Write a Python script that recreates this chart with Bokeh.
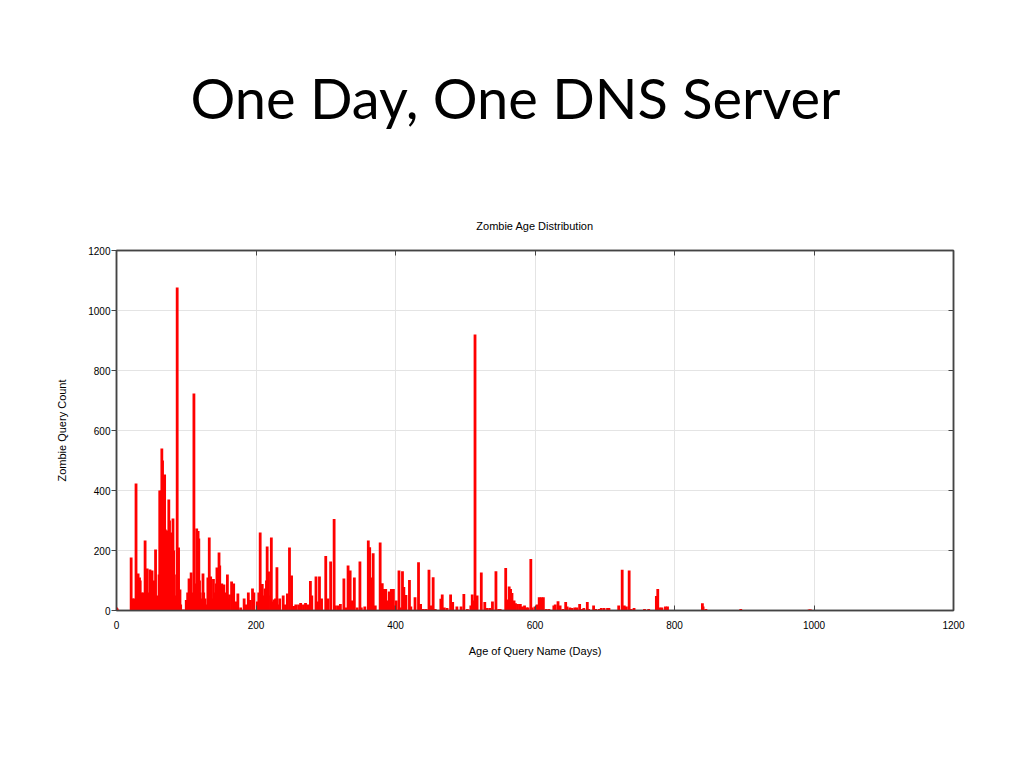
from bokeh.plotting import figure
from bokeh.models import ColumnDataSource, Range1d, LinearAxis, FixedTicker, Title
from bokeh.embed import file_html
from bokeh.resources import INLINE

# ---------------- data ----------------
slide_title = "One Day, One DNS Server"
chart_title = "Zombie Age Distribution"
x_label = "Age of Query Name (Days)"
y_label = "Zombie Query Count"
x_ticks = [0, 200, 400, 600, 800, 1000, 1200]
y_ticks = [0, 200, 400, 600, 800, 1000, 1200]

age_days = [
    0, 1, 21, 23, 25, 28, 30, 31, 33, 34, 36, 37, 39, 41, 42, 44, 46, 48, 49, 51,
    53, 54, 56, 58, 59, 61, 62, 63, 64, 65, 66, 67, 68, 69, 70, 72, 73, 74, 75, 76,
    77, 79, 80, 81, 82, 83, 85, 87, 88, 89, 91, 92, 96, 100, 102, 104, 106, 107, 109, 111,
    112, 113, 115, 116, 117, 118, 119, 120, 122, 124, 125, 127, 129, 131, 133, 135, 137, 139, 141, 143,
    144, 147, 148, 149, 151, 154, 156, 159, 160, 162, 165, 168, 171, 174, 178, 183, 186, 189, 192, 195,
    197, 202, 204, 206, 207, 209, 211, 213, 215, 216, 218, 221, 222, 224, 226, 228, 230, 233, 234, 239,
    242, 245, 248, 251, 254, 257, 261, 264, 268, 271, 274, 278, 280, 286, 289, 291, 294, 300, 303, 307,
    312, 314, 318, 321, 326, 329, 332, 335, 338, 341, 345, 349, 351, 356, 361, 363, 365, 368, 371, 378,
    381, 383, 386, 388, 391, 394, 397, 399, 401, 405, 407, 410, 412, 415, 420, 422, 428, 433, 436, 440,
    444, 448, 451, 454, 457, 465, 467, 470, 474, 479, 482, 488, 494, 498, 503, 508, 510, 512, 514, 517,
    523, 528, 531, 535, 539, 544, 548, 550, 558, 560, 563, 565, 567, 570, 572, 575, 579, 582, 585, 588,
    590, 594, 596, 600, 603, 606, 609, 612, 616, 620, 627, 629, 633, 636, 640, 644, 646, 650, 653, 657,
    660, 664, 668, 670, 675, 677, 684, 687, 692, 695, 699, 704, 706, 720, 725, 728, 731, 735, 738, 742,
    746, 751, 757, 763, 774, 776, 779, 782, 787, 790, 840, 841, 845, 890, 895, 897, 993, 995,
]
query_counts = [
    10, 7, 177, 40, 40, 423, 60, 123, 110, 100, 60, 30, 60, 233, 80, 140, 60, 137, 80, 133,
    70, 100, 203, 50, 40, 120, 400, 380, 400, 540, 500, 450, 380, 453, 270, 267, 200, 140, 370, 300,
    200, 260, 150, 307, 200, 120, 50, 1077, 100, 210, 70, 20, 3, 35, 60, 107, 60, 127, 60, 723,
    60, 90, 273, 200, 265, 240, 100, 60, 40, 123, 60, 40, 20, 110, 243, 113, 40, 105, 60, 90,
    143, 193, 150, 60, 90, 87, 60, 120, 40, 53, 97, 90, 30, 57, 10, 40, 20, 60, 35, 73,
    60, 30, 60, 260, 40, 88, 50, 73, 100, 213, 130, 50, 243, 30, 37, 40, 144, 20, 40, 50,
    20, 57, 210, 117, 15, 20, 20, 25, 20, 25, 20, 98, 50, 113, 30, 113, 40, 182, 40, 163,
    305, 17, 17, 22, 107, 10, 150, 133, 33, 110, 10, 163, 10, 13, 233, 211, 110, 191, 17, 227,
    91, 72, 72, 33, 63, 72, 72, 17, 33, 133, 10, 131, 78, 52, 102, 13, 44, 161, 22, 5,
    5, 136, 17, 111, 5, 39, 53, 10, 8, 53, 28, 13, 13, 55, 5, 17, 53, 33, 920, 50,
    127, 28, 8, 8, 30, 131, 5, 5, 142, 37, 80, 72, 58, 33, 24, 22, 22, 13, 17, 10,
    10, 172, 10, 13, 20, 44, 44, 44, 5, 5, 17, 20, 31, 17, 5, 28, 13, 10, 8, 10,
    10, 22, 5, 8, 28, 5, 17, 5, 5, 8, 8, 8, 8, 17, 136, 17, 13, 133, 5, 8,
    2, 2, 5, 5, 48, 72, 10, 10, 13, 13, 24, 13, 5, 2, 5, 2, 3, 3,
]

# ---------------- figure ----------------
src = ColumnDataSource(data=dict(day=age_days, count=query_counts))

p = figure(
    width=1008, height=752,
    x_range=Range1d(0, 1200), y_range=Range1d(0, 1200),
    output_backend="svg", toolbar_location=None, title=None,
    min_border_left=116, min_border_right=55,
    min_border_top=250, min_border_bottom=142,
    background_fill_color="white", border_fill_color="white",
)

p.segment(x0="day", y0=0, x1="day", y1="count", source=src,
          line_color="#ff0000", line_width=2.8)

FONT = "Liberation Sans"
AX = "#444444"

for ax in (p.xaxis[0], p.yaxis[0]):
    ax.major_label_text_font = FONT
    ax.major_label_text_font_size = "10px"
    ax.major_label_text_color = "black"
    ax.axis_label_text_font = FONT
    ax.axis_label_text_font_size = "11px"
    ax.axis_label_text_font_style = "normal"
    ax.axis_label_text_color = "black"
    ax.minor_tick_line_color = None
    ax.axis_line_color = AX
    ax.axis_line_width = 1.5
    ax.major_tick_line_color = AX

p.xaxis[0].ticker = FixedTicker(ticks=x_ticks)
p.yaxis[0].ticker = FixedTicker(ticks=y_ticks)
p.xaxis[0].axis_label = x_label
p.yaxis[0].axis_label = y_label

p.xaxis[0].major_tick_in = 5
p.xaxis[0].major_tick_out = 0
p.xaxis[0].major_label_standoff = 10
p.xaxis[0].axis_label_standoff = 13

p.yaxis[0].major_tick_in = 0
p.yaxis[0].major_tick_out = 5
p.yaxis[0].major_label_standoff = 1
p.yaxis[0].axis_label_standoff = 17

# mirrored axes (top / right) with inward ticks, no labels
for loc in ("above", "right"):
    ax = LinearAxis(ticker=FixedTicker(ticks=x_ticks if loc == "above" else y_ticks))
    ax.major_label_text_font_size = "0px"
    ax.major_label_text_color = None
    ax.minor_tick_line_color = None
    ax.major_tick_in = 5
    ax.major_tick_out = 0
    ax.axis_line_color = AX
    ax.axis_line_width = 1.5
    ax.major_tick_line_color = AX
    ax.major_label_standoff = 0
    p.add_layout(ax, loc)

p.xgrid.ticker = FixedTicker(ticks=x_ticks)
p.ygrid.ticker = FixedTicker(ticks=y_ticks)
p.xgrid.grid_line_color = "#e4e4e4"
p.ygrid.grid_line_color = "#e4e4e4"
p.outline_line_color = AX
p.outline_line_width = 1.5

# titles stacked above the frame: spacer, chart title, spacer, slide title
p.add_layout(Title(text=" ", align="center", text_font=FONT,
                   text_font_size="2px", text_font_style="normal"), "above")
p.add_layout(Title(text=chart_title, align="center", text_font=FONT,
                   text_font_size="11px", text_font_style="normal",
                   text_color="black"), "above")
p.add_layout(Title(text=" ", align="center", text_font=FONT,
                   text_font_size="58px", text_font_style="normal"), "above")
p.add_layout(Title(text=slide_title, align="left", offset=74,
                   text_font="Lato", text_font_size="56px",
                   text_font_style="normal", text_color="black"), "above")

open("out.html", "w").write(file_html(p, INLINE))
